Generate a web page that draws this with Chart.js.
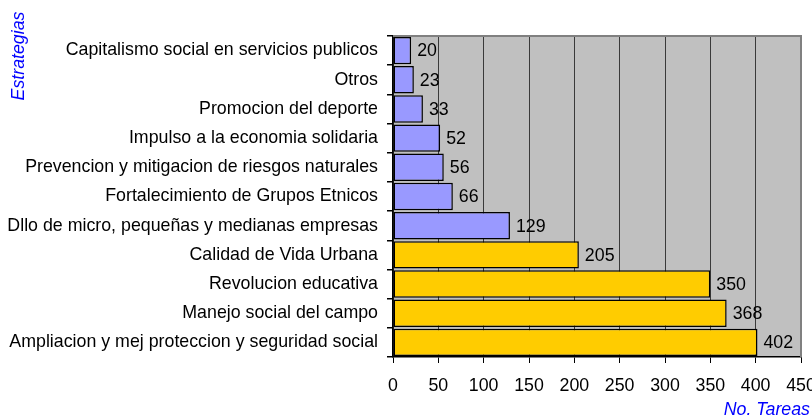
<!DOCTYPE html>
<html>
<head>
<meta charset="utf-8">
<script src="https://cdn.jsdelivr.net/npm/chart.js@4"></script>
<style>
  html, body { margin: 0; padding: 0; background: #fff; }
  #wrap { width: 812px; height: 420px; }
</style>
</head>
<body>
<div id="wrap"><canvas id="myChart" width="812" height="420"></canvas></div>
<script>
//data
const estrategias = [
  "Capitalismo social en servicios publicos",
  "Otros",
  "Promocion del deporte",
  "Impulso a la economia solidaria",
  "Prevencion y mitigacion de riesgos naturales",
  "Fortalecimiento de Grupos Etnicos",
  "Dllo de micro, pequeñas y medianas empresas",
  "Calidad de Vida Urbana",
  "Revolucion educativa",
  "Manejo social del campo",
  "Ampliacion y mej proteccion y seguridad social"
];
const tareas = [20, 23, 33, 52, 56, 66, 129, 205, 350, 368, 402];
const xTicks = [0, 50, 100, 150, 200, 250, 300, 350, 400, 450];
const yTitle = "Estrategias";
const xTitle = "No. Tareas";

const FONT = "'Liberation Sans', Arial, sans-serif";
const SIZE = 17.8;

//gray plot area + border on top and right
const plotArea = {
  id: "plotArea",
  beforeDraw(chart) {
    const { ctx, chartArea: a } = chart;
    ctx.save();
    ctx.fillStyle = "#C0C0C0";
    ctx.fillRect(a.left, a.top, a.right - a.left, a.bottom - a.top);
    ctx.restore();
  },
  afterDatasetsDraw(chart) {
    const { ctx, chartArea: a } = chart;
    ctx.save();
    ctx.strokeStyle = "#808080";
    ctx.lineWidth = 2;
    ctx.beginPath();
    ctx.moveTo(a.left, a.top);
    ctx.lineTo(a.right, a.top);
    ctx.lineTo(a.right, a.bottom);
    ctx.stroke();
    ctx.restore();
  }
};

//numbers at the end of every bar
const barValues = {
  id: "barValues",
  afterDatasetsDraw(chart) {
    const ctx = chart.ctx;
    const meta = chart.getDatasetMeta(0);
    ctx.save();
    ctx.font = SIZE + "px " + FONT;
    ctx.fillStyle = "#000";
    ctx.textAlign = "left";
    ctx.textBaseline = "middle";
    meta.data.forEach((bar, i) => {
      ctx.fillText(tareas[i], bar.x + 6, bar.y + 1);
    });
    ctx.restore();
  }
};

//axis titles placed like the original
const axisTitles = {
  id: "axisTitles",
  afterDraw(chart) {
    const ctx = chart.ctx;
    ctx.save();
    ctx.font = "italic " + SIZE + "px " + FONT;
    ctx.fillStyle = "#0000FF";
    ctx.textBaseline = "middle";
    ctx.textAlign = "right";
    ctx.fillText(xTitle, 810, 410);
    ctx.translate(19, 56);
    ctx.rotate(-Math.PI / 2);
    ctx.textAlign = "center";
    ctx.fillText(yTitle, 0, 0);
    ctx.restore();
  }
};

const data = {
  labels: estrategias,
  datasets: [
    {
      label: xTitle,
      data: tareas,
      backgroundColor: (c) => (c.dataIndex >= 7 ? "#FFCC00" : "#9999FF"),
      borderColor: "#000",
      borderWidth: 1.5,
      borderSkipped: false,
      barPercentage: 1,
      categoryPercentage: 0.94
    }
  ]
};

const config = {
  type: "bar",
  data,
  options: {
    indexAxis: "y",
    responsive: false,
    animation: false,
    layout: { padding: { top: 36, right: 11, left: 0, bottom: 0 } },
    plugins: {
      legend: { display: false },
      tooltip: { enabled: false }
    },
    scales: {
      x: {
        min: 0,
        max: 450,
        afterFit(scale) {
          scale.height = 63;
          scale.paddingRight = 0;
          scale.paddingLeft = 0;
        },
        afterBuildTicks(scale) {
          scale.ticks = xTicks.map((v) => ({ value: v }));
        },
        ticks: {
          color: "#000",
          font: { family: FONT, size: SIZE },
          padding: 12,
          maxRotation: 0,
          autoSkip: false
        },
        grid: {
          color: "#3a3a3a",
          lineWidth: 1,
          tickColor: "#000",
          tickLength: 6
        },
        border: { display: true, color: "#000", width: 1.5 }
      },
      y: {
        afterFit(scale) {
          scale.width = 393;
        },
        ticks: {
          color: "#000",
          font: { family: FONT, size: SIZE },
          padding: 9,
          autoSkip: false
        },
        grid: {
          drawOnChartArea: false,
          tickColor: "#000",
          tickLength: 6,
          lineWidth: 1.5
        },
        border: { display: true, color: "#000", width: 1.5 }
      }
    }
  },
  plugins: [plotArea, barValues, axisTitles]
};

const myChart = new Chart(document.getElementById("myChart"), config);
</script>
</body>
</html>
